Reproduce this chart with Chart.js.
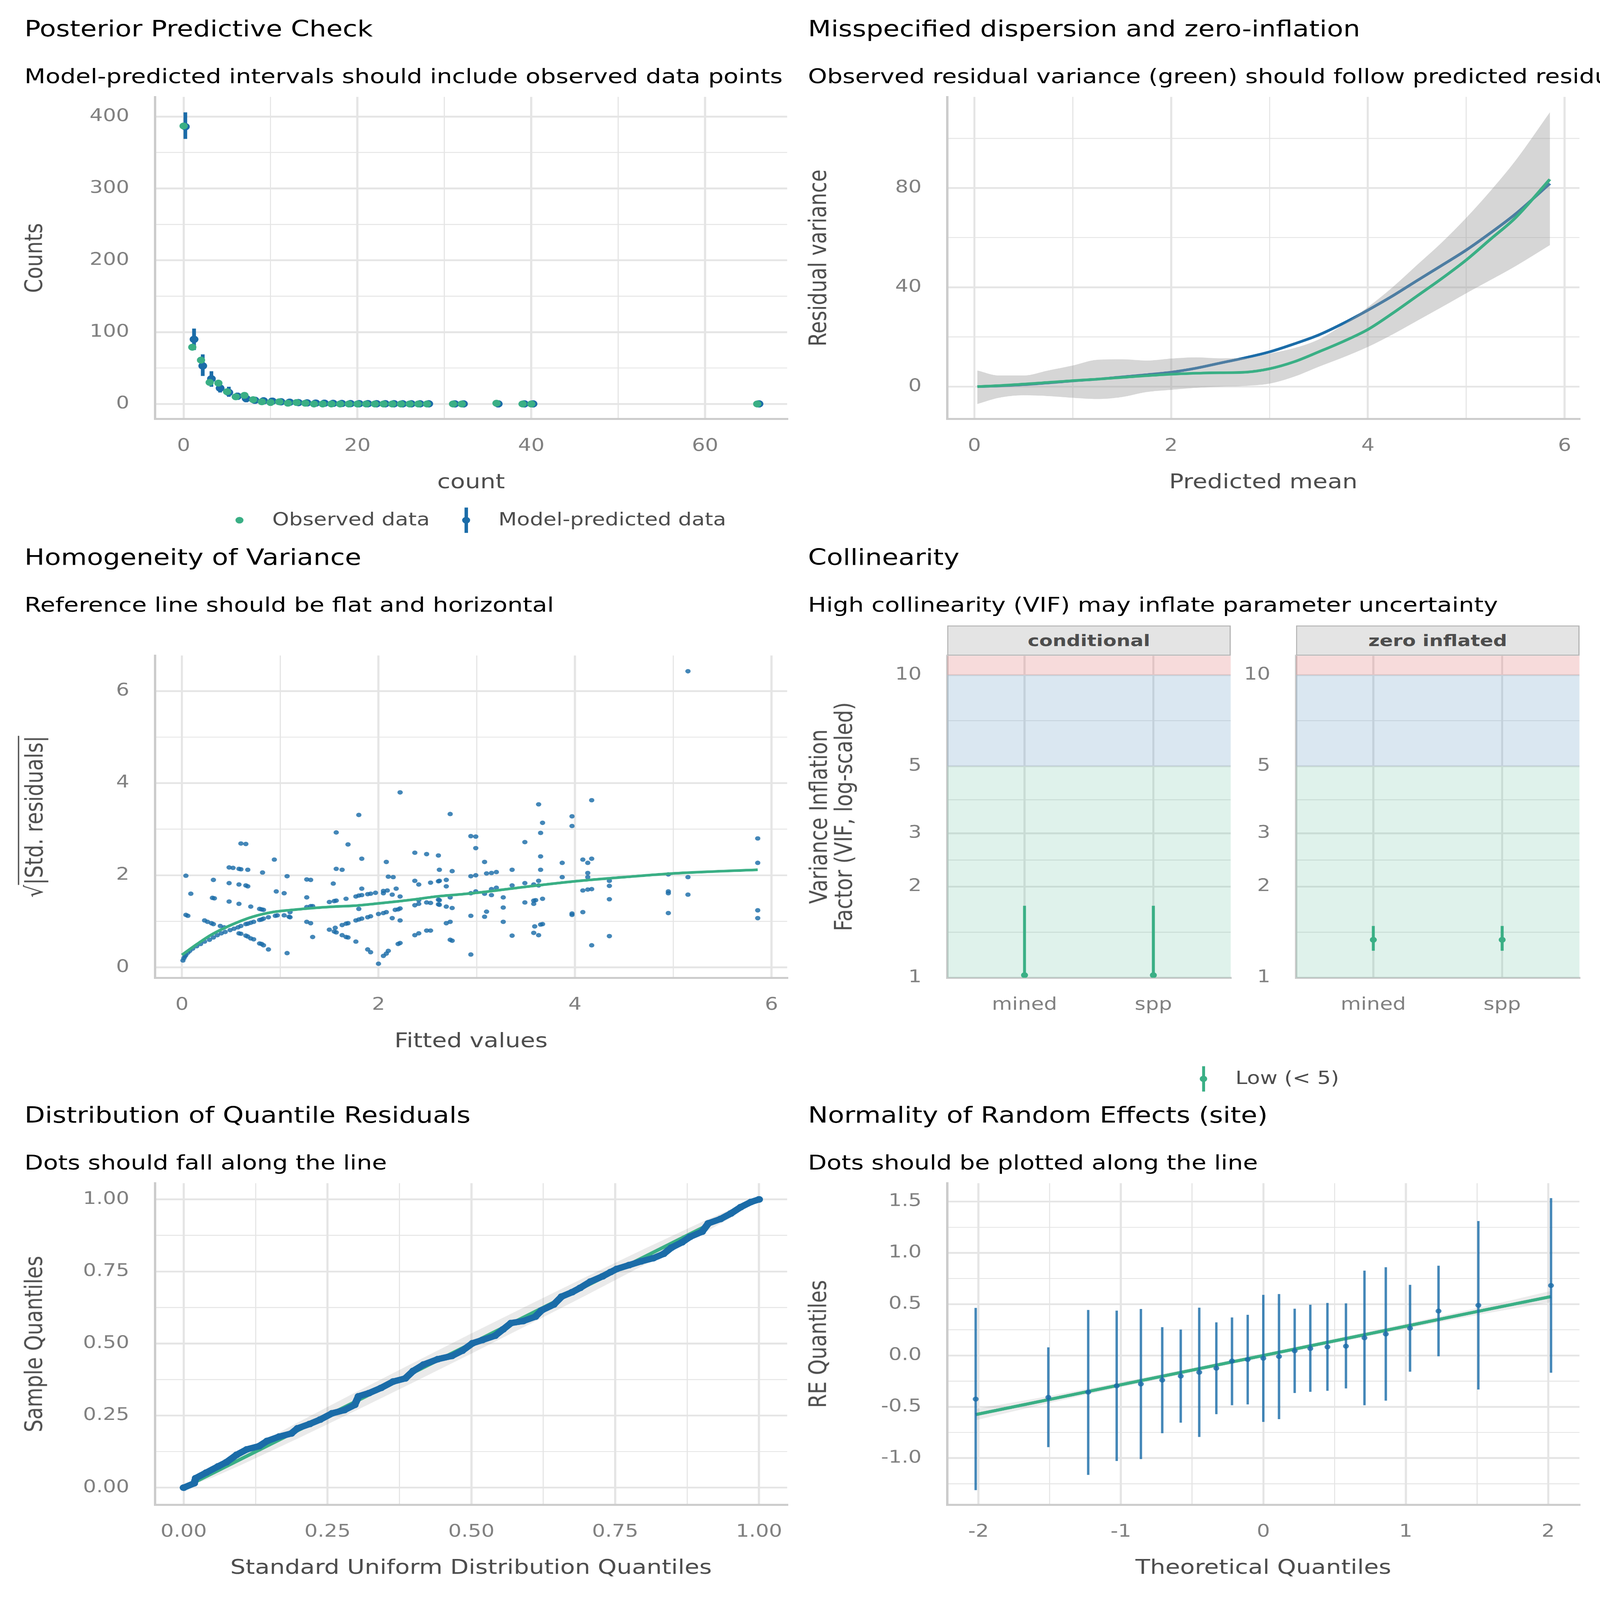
<!DOCTYPE html>
<html><head><meta charset="utf-8">
<script src="https://cdn.jsdelivr.net/npm/chart.js@4.4.1/dist/chart.umd.min.js"></script>
<style>
html,body{margin:0;padding:0;background:#fff;overflow:hidden;}
#root{width:6000px;height:7200px;position:absolute;left:0;top:0;transform-origin:0 0;overflow:hidden;background:#fff;font-family:'DejaVu Sans',sans-serif;}
.t{position:absolute;white-space:nowrap;line-height:1;font-family:'DejaVu Sans',sans-serif;}
canvas{position:absolute;}
.g{position:absolute;}
</style></head><body>
<div id="root"></div>
<script>
// ================= DATA =================
// Panel 1: Posterior predictive check
const ppcCounts    = [0,1,2,3,4,5,6,7,8,9,10,11,12,13,14,15,16,17,18,19,20,21,22,23,24,25,26,27,28,31,32,36,39,40,66];
const ppcObserved  = [387,79,61,30,29,17,10,12,6,3,2,3,1,2,1, 0,0,0,0,0,0,0,0,0,0,0,0,0,0, 0,0,1,0,0,0];
const ppcPredicted = [386,90,53,35,22,16,10.7,7.5,5.1,4.3,3.9,3.0,2.4,1.9,1.5, 1.2,1.0,0.8,0.6,0.5,0.4,0.4,0.3,0.3,0.3,0.2,0.2,0.2,0.2, 0.1,0.1,0.1,0.1,0.1,0.1];
const ppcLow       = [369,75,39,24,16,10,5.7,2.5,1,1,0,0,0,0,0, 0,0,0,0,0,0,0,0,0,0,0,0,0,0, 0,0,0,0,0,0];
const ppcHigh      = [406,105,69,45.6,29,24,15.6,13,9,8,7,6,5,4,3, 2,2,2,2,1,1,1,1,1,1,1,1,1,1, 1,1,1,1,1,1];

// Panel 2: Misspecified dispersion
const dispMean      = [0.03,0.25,0.5,0.75,1,1.25,1.5,1.75,2,2.25,2.5,2.75,3,3.25,3.5,3.75,4,4.25,4.5,4.75,5,5.25,5.5,5.85];
const dispPredicted = [0,0.3,0.8,1.5,2.3,3.0,3.9,4.8,5.8,7.4,9.5,11.6,14,17.2,20.8,25.5,30.8,36.5,42.7,48.8,55,62,69.5,81.8];
const dispObserved  = [0,0.4,1.0,1.7,2.4,3.0,3.7,4.4,5.0,5.4,5.6,5.8,7.2,10.0,14.0,18.2,23,29.5,36.5,43.5,51,59.5,68,83.5];
const dispLow       = [-7,-4.5,-3.5,-3.8,-4.5,-5,-4.2,-2.2,-1.3,-0.5,0,0.3,1.2,4,8,11.8,16,21,26.5,32,37.6,43,48.5,57];
const dispHigh      = [6.5,4.5,4.5,6.5,8.5,10.8,11,10.5,11.3,11.8,11.4,11.5,13.3,15.5,19,25,32,40,49,58,68,79,91,110.5];

// Panel 3: Homogeneity of variance  [fitted, sqrt|std.resid|]
const hovPoints = [
[0.01,0.15],[0.02,0.20],[0.03,0.24],[0.04,0.27],[0.06,0.32],[0.08,0.36],[0.11,0.41],[0.15,0.46],[0.19,0.51],[0.23,0.56],
[0.28,0.60],[0.32,0.65],[0.36,0.70],[0.40,0.74],[0.44,0.77],[0.49,0.81],[0.53,0.84],[0.57,0.87],[0.60,0.90],[0.04,1.99],
[0.09,1.60],[0.04,1.14],[0.06,1.12],[0.23,1.02],[0.26,0.99],[0.30,0.96],[0.32,0.94],[0.32,1.90],[0.31,1.51],[0.33,1.50],
[0.39,0.90],[0.43,0.87],[0.48,2.17],[0.52,2.16],[0.48,1.83],[0.48,1.43],[0.60,2.69],[0.65,2.68],[0.58,2.14],[0.60,2.13],
[0.67,2.12],[0.58,1.80],[0.65,1.78],[0.67,1.76],[0.58,1.38],[0.70,1.32],[0.58,0.74],[0.60,0.73],[0.65,0.69],[0.67,0.67],
[0.70,0.63],[0.73,0.61],[0.79,0.52],[0.81,0.51],[0.83,0.48],[0.88,0.39],[0.65,0.94],[0.67,0.95],[0.70,0.97],[0.73,0.99],
[0.79,1.03],[0.81,1.04],[0.83,1.06],[0.88,1.09],[0.79,1.27],[0.81,1.26],[0.83,1.25],[0.82,2.06],[0.94,2.34],[0.96,1.65],
[0.95,1.12],[0.97,1.13],[1.04,1.61],[1.04,1.13],[1.09,1.10],[1.10,1.09],[1.07,1.98],[1.10,1.20],[1.07,0.31],[1.27,1.91],
[1.31,1.90],[1.27,1.52],[1.27,1.31],[1.31,1.33],[1.33,1.33],[1.27,0.99],[1.31,0.96],[1.33,0.66],[1.54,1.82],[1.57,2.93],
[1.57,2.14],[1.63,2.12],[1.69,2.67],[1.50,1.42],[1.55,1.44],[1.57,1.45],[1.67,1.49],[1.50,0.82],[1.55,0.78],[1.56,0.86],
[1.57,0.76],[1.63,0.92],[1.67,0.95],[1.69,0.96],[1.63,0.70],[1.67,0.66],[1.69,0.65],[1.77,0.56],[1.77,1.54],[1.80,1.56],
[1.83,1.57],[1.80,3.31],[1.83,2.36],[1.83,1.71],[1.80,1.27],[1.77,1.02],[1.80,1.04],[1.83,1.06],[1.89,1.59],[1.92,1.60],
[1.97,1.62],[1.89,1.09],[1.92,1.11],[1.89,0.39],[1.92,0.33],[2.00,0.08],[2.00,1.16],[2.05,1.66],[2.09,1.67],[2.05,1.61],
[2.08,2.29],[2.05,1.18],[2.08,1.20],[2.05,0.25],[2.08,0.30],[2.10,0.36],[2.10,1.97],[2.15,1.96],[2.14,1.58],[2.14,1.07],
[2.18,1.71],[2.22,3.80],[2.22,1.54],[2.17,1.25],[2.20,1.26],[2.22,1.28],[2.22,1.02],[2.20,0.51],[2.22,0.53],[2.37,2.49],
[2.37,1.88],[2.41,1.80],[2.41,1.46],[2.37,1.35],[2.41,1.38],[2.37,0.70],[2.41,0.74],[2.49,2.46],[2.53,1.84],[2.49,1.41],
[2.53,1.40],[2.49,0.80],[2.53,0.80],[2.61,2.43],[2.62,2.12],[2.61,1.87],[2.62,1.88],[2.61,1.47],[2.62,1.46],[2.61,1.37],
[2.62,1.36],[2.69,1.90],[2.69,1.76],[2.69,1.32],[2.75,1.29],[2.73,3.33],[2.75,2.09],[2.73,1.52],[2.69,0.96],[2.73,0.99],
[2.73,0.60],[2.75,0.58],[2.94,2.85],[2.99,2.84],[2.99,2.59],[2.94,1.98],[2.99,2.00],[2.94,1.61],[2.99,1.65],[2.94,1.12],
[2.94,0.28],[3.08,2.29],[3.10,2.04],[3.15,2.05],[3.20,2.07],[3.08,1.60],[3.15,1.70],[3.20,1.73],[3.15,1.57],[3.10,1.21],
[3.08,1.10],[3.27,1.52],[3.27,1.30],[3.27,0.99],[3.36,2.12],[3.36,1.78],[3.36,0.69],[3.49,2.72],[3.49,1.83],[3.49,1.41],
[3.58,1.80],[3.63,1.88],[3.63,1.78],[3.58,1.45],[3.60,1.46],[3.58,1.38],[3.67,1.49],[3.63,3.54],[3.67,3.14],[3.65,2.92],
[3.65,2.41],[3.65,2.12],[3.59,0.89],[3.65,0.93],[3.67,0.94],[3.58,0.75],[3.63,0.70],[3.87,2.27],[3.87,1.96],[3.97,3.28],
[3.97,3.07],[3.97,1.17],[3.97,1.14],[4.08,2.34],[4.08,1.67],[4.08,1.20],[4.13,2.27],[4.13,2.05],[4.13,1.96],[4.13,1.69],
[4.17,3.63],[4.17,2.36],[4.17,1.70],[4.17,0.48],[4.35,1.88],[4.35,1.77],[4.35,1.48],[4.35,0.68],[4.95,2.02],[4.95,1.65],
[4.95,1.61],[4.95,1.18],[5.15,6.43],[5.15,1.96],[5.15,1.58],[5.86,2.80],[5.86,2.27],[5.86,1.24],[5.86,1.07]
];
const hovSmoothX = [0,0.15,0.3,0.51,0.72,0.92,1.13,1.34,1.55,1.76,2.0,2.18,2.38,2.59,2.80,3.0,3.5,4.0,4.5,5.0,5.5,5.86];
const hovSmoothY = [0.27,0.5,0.71,0.93,1.10,1.20,1.25,1.29,1.32,1.34,1.39,1.43,1.48,1.54,1.58,1.62,1.75,1.87,1.96,2.04,2.09,2.12];

// Panel 4: Collinearity
const vifTerms   = ['mined','spp'];
const vifCond    = [1.02,1.02];
const vifCondLo  = [1.0,1.0];
const vifCondHi  = [1.73,1.73];
const vifZi      = [1.335,1.335];
const vifZiLo    = [1.229,1.229];
const vifZiHi    = [1.483,1.483];
const vifZones   = [1,5,10];
const vifTicks   = [1,2,3,5,10];

// Panel 5: QQ uniform
const qqX = [0,0.018,0.021,0.039,0.060,0.074,0.092,0.110,0.131,0.145,0.166,0.187,0.198,0.219,0.237,0.258,0.279,0.297,0.304,0.322,0.343,0.364,0.385,0.399,0.417,0.442,0.466,0.484,0.502,0.519,0.541,0.555,0.569,0.590,0.611,0.622,0.643,0.657,0.675,0.689,0.707,0.728,0.742,0.753,0.774,0.795,0.816,0.834,0.848,0.866,0.880,0.901,0.912,0.933,0.951,0.968,0.986,1.0];
const qqY = [0,0.015,0.033,0.052,0.074,0.088,0.114,0.133,0.144,0.162,0.177,0.188,0.206,0.221,0.236,0.258,0.269,0.287,0.317,0.328,0.346,0.368,0.379,0.405,0.427,0.446,0.457,0.475,0.501,0.512,0.527,0.549,0.571,0.578,0.593,0.615,0.635,0.663,0.678,0.693,0.715,0.733,0.748,0.759,0.772,0.785,0.796,0.811,0.833,0.851,0.870,0.888,0.917,0.932,0.951,0.973,0.991,1.0];
const qqBandX  = [0,0.05,0.1,0.2,0.3,0.4,0.5,0.6,0.7,0.8,0.9,0.95,1];
const qqBandLo = [0,0.035,0.079,0.172,0.268,0.366,0.465,0.566,0.668,0.772,0.879,0.935,1];
const qqBandHi = [0,0.065,0.121,0.228,0.332,0.434,0.535,0.634,0.732,0.828,0.921,0.965,1];

// Panel 6: Random effects QQ
const reTheo = [-2.02,-1.51,-1.23,-1.03,-0.86,-0.71,-0.58,-0.45,-0.33,-0.22,-0.11,0,0.11,0.22,0.33,0.45,0.58,0.71,0.86,1.03,1.23,1.51,2.02];
const reQ    = [-0.425,-0.408,-0.357,-0.296,-0.278,-0.240,-0.201,-0.164,-0.124,-0.054,-0.039,-0.027,-0.010,0.046,0.068,0.083,0.091,0.172,0.209,0.265,0.433,0.489,0.682];
const reLo   = [-1.312,-0.893,-1.163,-1.028,-1.01,-0.757,-0.655,-0.794,-0.572,-0.485,-0.477,-0.647,-0.620,-0.365,-0.354,-0.344,-0.321,-0.485,-0.440,-0.158,-0.008,-0.332,-0.168];
const reHi   = [0.464,0.079,0.444,0.437,0.454,0.276,0.253,0.466,0.323,0.371,0.396,0.591,0.599,0.456,0.495,0.512,0.508,0.827,0.860,0.688,0.875,1.310,1.534];
const reLineX  = [-2.02,-1.5,-1,0,1,1.5,2.02];
const reLineY  = [-0.576,-0.428,-0.285,0,0.285,0.428,0.574];
const reBandLo = [-0.631,-0.462,-0.310,-0.02,0.260,0.394,0.519];
const reBandHi = [-0.521,-0.394,-0.260,0.02,0.310,0.462,0.629];

// ================= STYLE / HELPERS =================
const ROOT=document.getElementById('root');
const GREEN='#3aaf85', BLUE='#1b6ca8', BLUEA='rgba(27,108,168,0.82)';
const GRID='#e5e5e5', AXIS='#cccccc', TICKC='#808080', TITLEC='#4d4d4d';
const FONT='DejaVu Sans', TICKFS=78;
const LM=520, TM=220, RM=260, BM=240;
Chart.defaults.font.family=FONT;

// the design is laid out on a 6000x7200 sheet; stretch it onto the actual viewport
const SX=window.innerWidth/6000, SY=window.innerHeight/7200;
ROOT.style.transform='scale('+SX+','+SY+')';

const xy=(xs,ys)=>xs.map((x,i)=>({x:x,y:ys[i]}));
function bars(xs,lo,hi,dx){const d=[];xs.forEach((x,i)=>{d.push({x:x+dx,y:lo[i]},{x:x+dx,y:hi[i]},{x:x+dx,y:null});});return d;}

function scale(type,min,max,major,minor,fmt,pad){
  const all=[...major,...minor].sort((a,b)=>a-b);
  const isMaj=v=>major.some(m=>Math.abs(m-v)<1e-9);
  return {type:type,min:min,max:max,
    afterBuildTicks:s=>{s.ticks=all.map(v=>({value:v}));},
    ticks:{autoSkip:false,maxRotation:0,minRotation:0,color:TICKC,font:{family:FONT,size:TICKFS},padding:pad,
      callback:(v)=>isMaj(v)?fmt(v):''},
    grid:{color:GRID,lineWidth:c=>(c.tick&&isMaj(c.tick.value))?8:4,drawTicks:false},
    border:{display:true,color:AXIS,width:9}};
}
function mk(l,t,r,b,config){
  const c=document.createElement('canvas');
  const W=r-l+LM+RM, H=b-t+TM+BM;
  c.width=W;c.height=H;
  c.style.left=(l-LM)+'px';c.style.top=(t-TM)+'px';c.style.width=W+'px';c.style.height=H+'px';
  ROOT.appendChild(c);
  const o=config.options||{};
  o.responsive=false;o.animation=false;o.devicePixelRatio=1;
  o.layout={padding:{top:TM,right:RM,left:0,bottom:0}};
  o.plugins=Object.assign({legend:{display:false},tooltip:{enabled:false}},o.plugins||{});
  o.scales.x.afterFit=s=>{s.height=BM;};
  o.scales.y.afterFit=s=>{s.width=LM;};
  config.options=o;
  return new Chart(c,config);
}
function txt(s,x,y,o){
  const d=document.createElement('div');d.className='t';
  d.style.fontSize=o.fs+'px';d.style.color=o.color||'#000';
  if(o.weight)d.style.fontWeight=o.weight;
  if(o.html)d.innerHTML=s;else d.textContent=s;
  if(o.a==='lb'){d.style.left=x+'px';d.style.top=(y-0.846*o.fs)+'px';}
  else if(o.a==='cc'){d.style.left=x+'px';d.style.top=(y-0.546*o.fs)+'px';d.style.transform='translateX(-50%)';}
  else if(o.a==='lc'){d.style.left=x+'px';d.style.top=(y-0.546*o.fs)+'px';}
  else if(o.a==='rot'){d.style.left=x+'px';d.style.top=y+'px';d.style.transform='translate(-50%,-50%) rotate(-90deg)';if(o.lh)d.style.lineHeight=o.lh;d.style.textAlign='center';}
  ROOT.appendChild(d);return d;
}
function dot(cx,cy,r,col){const d=document.createElement('div');d.className='g';d.style.left=(cx-r)+'px';d.style.top=(cy-r)+'px';d.style.width=2*r+'px';d.style.height=2*r+'px';d.style.borderRadius='50%';d.style.background=col;ROOT.appendChild(d);}
function vbar(x,y1,y2,w,col){const d=document.createElement('div');d.className='g';d.style.left=(x-w/2)+'px';d.style.top=y1+'px';d.style.width=w+'px';d.style.height=(y2-y1)+'px';d.style.background=col;ROOT.appendChild(d);}

const num=v=>String(v);
const lineDs=(data,col,w,order,extra)=>Object.assign({type:'line',data:data,borderColor:col,borderWidth:w,pointRadius:0,fill:false,order:order,cubicInterpolationMode:'monotone'},extra||{});
const ptDs=(data,col,r,order)=>({type:'scatter',data:data,backgroundColor:col,pointRadius:r,pointBorderWidth:0,borderWidth:0,order:order});

// ================= LAYOUT =================
const L1=581,R1=2952,L2=3552,R2=5923;
const ROW=[{t:436,b:1885},{t:2950,b:4400},{t:5324,b:6771}];
const ROFF=[0,2377,4888];
const XP=77, YP=96;

// ---- Panel 1 ----
mk(L1,ROW[0].t,R1,ROW[0].b,{type:'scatter',data:{datasets:[
  lineDs(bars(ppcCounts,ppcLow,ppcHigh,0.2),BLUE,14,3,{cubicInterpolationMode:'default',tension:0,spanGaps:false}),
  ptDs(xy(ppcCounts.map(c=>c+0.2),ppcPredicted),BLUE,16.5,2),
  ptDs(xy(ppcCounts,ppcObserved),GREEN,15.5,1)
]},options:{scales:{
  x:scale('linear',-3.3,69.45,[0,20,40,60],[10,30,50],num,XP),
  y:scale('linear',-20.8,427.5,[0,100,200,300,400],[50,150,250,350],num,YP)}}});

// ---- Panel 2 ----
mk(L2,ROW[0].t,R2,ROW[0].b,{type:'scatter',data:{datasets:[
  lineDs(xy(dispMean,dispPredicted),BLUE,12,4),
  lineDs(xy(dispMean,dispLow),'rgba(0,0,0,0)',0,3),
  lineDs(xy(dispMean,dispHigh),'rgba(0,0,0,0)',0,2,{fill:'-1',backgroundColor:'rgba(153,153,153,0.4)'}),
  lineDs(xy(dispMean,dispObserved),GREEN,12,1)
]},options:{scales:{
  x:scale('linear',-0.276,6.151,[0,2,4,6],[1,3,5],num,XP),
  y:scale('linear',-13.0,116.7,[0,40,80],[20,60,100],num,YP)}}});

// ---- Panel 3 ----
mk(L1,ROW[1].t,R1,ROW[1].b,{type:'scatter',data:{datasets:[
  ptDs(hovPoints.map(p=>({x:p[0],y:p[1]})),BLUEA,10,2),
  lineDs(xy(hovSmoothX,hovSmoothY),GREEN,12,1)
]},options:{scales:{
  x:scale('linear',-0.275,6.16,[0,2,4,6],[1,3,5],num,XP),
  y:scale('linear',-0.225,6.77,[0,2,4,6],[1,3,5],num,YP)}}});

// ---- Panel 4 (two facets) ----
const vifBands={id:'vifBands',beforeDatasetsDraw(chart){
  const {ctx,chartArea:a,scales:{y}}=chart;
  const cols=['rgba(58,175,133,0.16)','rgba(27,108,168,0.16)','rgba(205,32,31,0.16)'];
  const edges=[...vifZones,y.max];
  ctx.save();
  for(let i=0;i<3;i++){const p1=y.getPixelForValue(edges[i+1]),p0=y.getPixelForValue(edges[i]);
    ctx.fillStyle=cols[i];ctx.fillRect(a.left,p1,a.width,p0-p1);}
  ctx.restore();}};
const vifMinor=[Math.SQRT2,2.449,3.873,7.071];
function vifChart(l,r,vals,lo,hi){
  const xs=vifTerms.map((t,i)=>i+1);
  mk(l,ROW[1].t,r,ROW[1].b,{type:'scatter',data:{datasets:[
    lineDs(bars(xs,lo,hi,0),GREEN,11,2,{cubicInterpolationMode:'default',tension:0}),
    ptDs(xy(xs,vals),GREEN,13,1)
  ]},plugins:[vifBands],options:{scales:{
    x:scale('linear',0.4,2.6,[1,2],[],v=>vifTerms[Math.round(v)-1],XP),
    y:scale('logarithmic',1,11.6,vifTicks,vifMinor,num,YP)}}});
}
vifChart(3552,4615,vifCond,vifCondLo,vifCondHi);
vifChart(4860,5923,vifZi,vifZiLo,vifZiHi);

// ---- Panel 5 ----
mk(L1,ROW[2].t,R1,ROW[2].b,{type:'scatter',data:{datasets:[
  lineDs(xy(qqBandX,qqBandLo),'rgba(0,0,0,0)',0,4,{cubicInterpolationMode:'default',tension:0}),
  lineDs(xy(qqBandX,qqBandHi),'rgba(0,0,0,0)',0,3,{fill:'-1',backgroundColor:'rgba(128,128,128,0.17)',cubicInterpolationMode:'default',tension:0}),
  lineDs([{x:0,y:0},{x:1,y:1}],GREEN,15,2),
  lineDs(xy(qqX,qqY),BLUE,28,1,{cubicInterpolationMode:'default',tension:0,borderJoinStyle:'round',borderCapStyle:'round',pointRadius:15,pointBackgroundColor:BLUE,pointBorderWidth:0})
]},options:{scales:{
  x:scale('linear',-0.05,1.049,[0,0.25,0.5,0.75,1],[0.125,0.375,0.625,0.875],v=>v.toFixed(2),XP),
  y:scale('linear',-0.059,1.0565,[0,0.25,0.5,0.75,1],[0.125,0.375,0.625,0.875],v=>v.toFixed(2),YP)}}});

// ---- Panel 6 ----
mk(L2,ROW[2].t,R2,ROW[2].b,{type:'scatter',data:{datasets:[
  lineDs(xy(reLineX,reBandLo),'rgba(0,0,0,0)',0,5),
  lineDs(xy(reLineX,reBandHi),'rgba(0,0,0,0)',0,4,{fill:'-1',backgroundColor:'rgba(128,128,128,0.15)'}),
  lineDs(xy(reLineX,reLineY),GREEN,14,3,{cubicInterpolationMode:'default',tension:0}),
  lineDs(bars(reTheo,reLo,reHi,0),BLUEA,9,2,{cubicInterpolationMode:'default',tension:0}),
  ptDs(xy(reTheo,reQ),BLUEA,11,1)
]},options:{scales:{
  x:scale('linear',-2.22,2.22,[-2,-1,0,1,2],[-1.5,-0.5,0.5,1.5],num,XP),
  y:scale('linear',-1.454,1.68,[-1,-0.5,0,0.5,1,1.5],[-1.25,-0.75,-0.25,0.25,0.75,1.25],v=>v.toFixed(1),YP)}}});

// ================= TEXT =================
const TFS=100, SFS=91, AFS=90, LFS=80;
const titles=[
 ['Posterior Predictive Check','Model-predicted intervals should include observed data points'],
 ['Misspecified dispersion and zero-inflation','Observed residual variance (green) should follow predicted residual variance (blue)'],
 ['Homogeneity of Variance','Reference line should be flat and horizontal'],
 ['Collinearity','High collinearity (VIF) may inflate parameter uncertainty'],
 ['Distribution of Quantile Residuals','Dots should fall along the line'],
 ['Normality of Random Effects (site)','Dots should be plotted along the line']];
titles.forEach((p,i)=>{const row=Math.floor(i/2), x=(i%2===0)?92:3030;
  txt(p[0],x,165+ROFF[row],{fs:TFS,a:'lb'});
  txt(p[1],x,375+ROFF[row],{fs:SFS,a:'lb'});});

const cx1=(L1+R1)/2, cx2=(L2+R2)/2;
txt('count',cx1,ROW[0].b+285,{fs:AFS,color:TITLEC,a:'cc'});
txt('Counts',127,(ROW[0].t+ROW[0].b)/2,{fs:AFS,color:TITLEC,a:'rot'});
txt('Predicted mean',cx2,ROW[0].b+285,{fs:AFS,color:TITLEC,a:'cc'});
txt('Residual variance',3067,(ROW[0].t+ROW[0].b)/2,{fs:AFS,color:TITLEC,a:'rot'});
txt('Fitted values',cx1,ROW[1].b+285,{fs:AFS,color:TITLEC,a:'cc'});
txt('√<span style="border-top:5px solid #4d4d4d;padding-top:3px">|Std. residuals|</span>',128,(ROW[1].t+ROW[1].b)/2,{fs:AFS,color:TITLEC,a:'rot',html:true});
txt('Variance Inflation<br>Factor (VIF, log-scaled)',3117,(ROW[1].t+ROW[1].b)/2,{fs:AFS,color:TITLEC,a:'rot',html:true,lh:'1.03'});
txt('Standard Uniform Distribution Quantiles',cx1,ROW[2].b+285,{fs:AFS,color:TITLEC,a:'cc'});
txt('Sample Quantiles',127,(ROW[2].t+ROW[2].b)/2,{fs:AFS,color:TITLEC,a:'rot'});
txt('Theoretical Quantiles',cx2,ROW[2].b+285,{fs:AFS,color:TITLEC,a:'cc'});
txt('RE Quantiles',3067,(ROW[2].t+ROW[2].b)/2,{fs:AFS,color:TITLEC,a:'rot'});

// strips
[[3552,4615,'conditional'],[4860,5923,'zero inflated']].forEach(s=>{
  const d=document.createElement('div');d.className='t';
  Object.assign(d.style,{left:s[0]+'px',top:'2815px',width:(s[1]-s[0])+'px',height:'135px',boxSizing:'border-box',
    background:'#e4e4e4',border:'4px solid #b3b3b3',textAlign:'center',lineHeight:'127px',fontSize:'73px',fontWeight:'bold',color:'#4d4d4d'});
  d.textContent=s[2];ROOT.appendChild(d);});

// legends
dot(898,2341,15,GREEN);
txt('Observed data',1021,2341,{fs:LFS,color:TITLEC,a:'lc'});
vbar(1748,2284,2398,13,BLUE);dot(1748,2341,15,BLUE);
txt('Model-predicted data',1869,2341,{fs:LFS,color:TITLEC,a:'lc'});
vbar(4513,4798,4912,11,GREEN);dot(4513,4855,14,GREEN);
txt('Low (< 5)',4633,4855,{fs:LFS,color:TITLEC,a:'lc'});
</script>
</body></html>
